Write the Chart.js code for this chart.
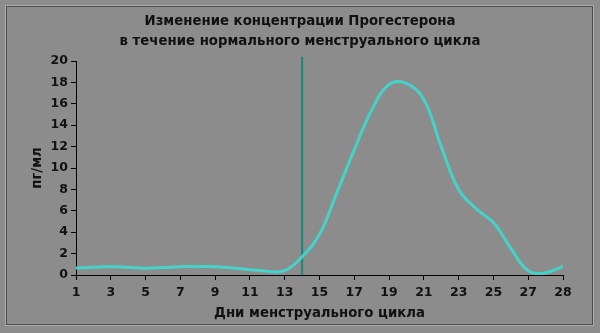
<!DOCTYPE html>
<html lang="ru">
<head>
  <meta charset="UTF-8" />
  <title>Прогестерон</title>
  <script src="https://cdn.jsdelivr.net/npm/chart.js"></script>
  <style>
    body {
      margin: 0;
      background-color: #8c8c8c;
      font-family: 'DejaVu Sans', sans-serif;
    }
    .frame {
      position: absolute;
      left: 6px;
      top: 6px;
      width: 585px;
      height: 317px;
      border: 1px solid #4e4e4e;
      box-shadow: 0 0 0 1px #a9a9a9;
    }
    .wrap {
      position: absolute;
      left: 0;
      top: 0;
      width: 600px;
      height: 333px;
    }
  </style>
</head>
<body>
<div class="frame"></div>
<div class="wrap">
  <canvas id="progChart" width="600" height="333"></canvas>
</div>
<script>
  // tick labels along the x axis (evenly spaced, as on the original)
  const dayLabels = ['1', '3', '5', '7', '9', '11', '13', '15', '17', '19', '21', '23', '25', '27', '28'];
  // progesterone, pg/ml, read every half label step
  const progesterone = [
    0.65, 0.72, 0.78, 0.72, 0.63, 0.7, 0.78, 0.78, 0.78, 0.65,
    0.5, 0.35, 0.4, 1.7, 3.8, 7.7, 11.7, 15.4, 17.8, 17.9,
    16.4, 12.0, 8.0, 6.2, 4.9, 2.5, 0.4, 0.2, 0.8
  ];
  // ovulation marker (between "13" and "15")
  const ovulationPos = 6.5;
  const yTop = 20;

  const curve = progesterone.map((v, i) => ({ x: i / 2, y: v }));

  const FAMILY = "'DejaVu Sans', sans-serif";
  const tickFont = { family: FAMILY, weight: 'bold', size: 12.5 };
  const titleFont = { family: FAMILY, weight: 'bold', size: 13.3 };

  new Chart(document.getElementById('progChart'), {
    type: 'line',
    data: {
      datasets: [
        {
          label: 'Прогестерон',
          data: curve,
          borderColor: '#45d3c9',
          borderWidth: 3,
          pointRadius: 0,
          tension: 0.4,
          fill: false
        },
        {
          label: 'Овуляция',
          data: [{ x: ovulationPos, y: 0 }, { x: ovulationPos, y: yTop + 0.4 }],
          borderColor: '#17877f',
          borderWidth: 2,
          pointRadius: 0,
          clip: false
        }
      ]
    },
    options: {
      responsive: false,
      animation: false,
      layout: { padding: 0 },
      plugins: {
        legend: { display: false },
        tooltip: { enabled: false },
        title: {
          display: true,
          text: ['Изменение концентрации Прогестерона', 'в течение нормального менструального цикла'],
          color: '#111',
          font: { family: FAMILY, weight: 'bold', size: 13.3, lineHeight: '20px' },
          padding: { top: 12, bottom: 9 }
        }
      },
      scales: {
        x: {
          type: 'linear',
          min: 0,
          max: dayLabels.length - 1,
          afterFit: s => { s.height = 58; },
          border: { color: '#000', width: 1 },
          grid: { drawOnChartArea: false, tickLength: 5, color: '#000' },
          ticks: {
            stepSize: 1,
            color: '#111',
            font: tickFont,
            padding: 5,
            maxRotation: 0,
            autoSkip: false,
            callback: v => dayLabels[v]
          },
          title: {
            display: true,
            text: 'Дни менструального цикла',
            color: '#111',
            font: titleFont,
            padding: { top: 0, bottom: 11 }
          }
        },
        y: {
          min: 0,
          max: yTop,
          afterFit: s => { s.width = 76; },
          border: { color: '#000', width: 1 },
          grid: { drawOnChartArea: false, tickLength: 5, color: '#000' },
          ticks: { stepSize: 2, color: '#111', font: tickFont, padding: 3 },
          title: {
            display: true,
            text: 'пг/мл',
            color: '#111',
            font: titleFont,
            padding: { top: 30, bottom: 0 }
          }
        },
        // empty right margin so the title stays centred on the whole picture
        spacer: {
          position: 'right',
          min: 0,
          max: yTop,
          afterFit: s => { s.width = 37; },
          border: { display: false },
          grid: { display: false },
          ticks: { display: false }
        }
      }
    }
  });
</script>
</body>
</html>
